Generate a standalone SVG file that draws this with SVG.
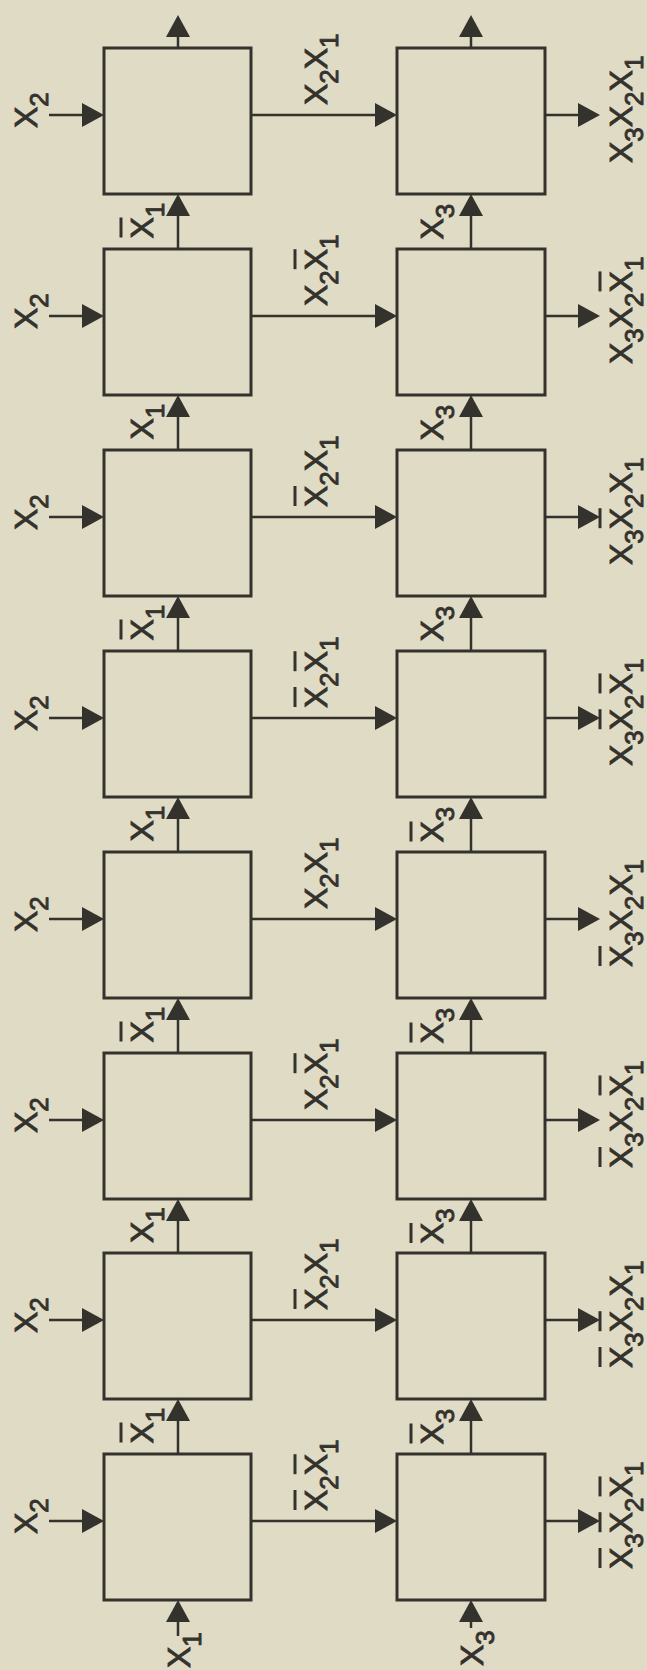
<svg xmlns="http://www.w3.org/2000/svg" width="647" height="1670" viewBox="0 0 647 1670">
<style>
.bg{fill:#e0dbc5}
.box{fill:#e0dbc5;stroke:#34322d;stroke-width:3}
.ln{fill:none;stroke:#34322d;stroke-width:2.5;marker-end:url(#ah)}
text{font-family:"Liberation Sans",Arial,sans-serif;fill:#34322d;stroke:#34322d;stroke-width:0.9}
.x{font-size:32px}
.s{font-size:26px}
.bar{stroke:#34322d;stroke-width:3}
</style>
<defs>
<marker id="ah" viewBox="0 0 22 24" refX="19" refY="12" markerWidth="22" markerHeight="24" markerUnits="userSpaceOnUse" orient="auto">
<path d="M0,0 L22,12 L0,24 z" fill="#34322d"/>
</marker>
</defs>
<rect class="bg" x="0" y="0" width="647" height="1670"/>

<g id="nodes">
<g id="r0L"><rect class="box" x="104" y="48" width="147" height="146"/></g>
<g id="r0R"><rect class="box" x="397" y="48" width="148" height="146"/></g>
<g id="r1L"><rect class="box" x="104" y="249" width="147" height="146"/></g>
<g id="r1R"><rect class="box" x="397" y="249" width="148" height="146"/></g>
<g id="r2L"><rect class="box" x="104" y="450" width="147" height="146"/></g>
<g id="r2R"><rect class="box" x="397" y="450" width="148" height="146"/></g>
<g id="r3L"><rect class="box" x="104" y="651" width="147" height="146"/></g>
<g id="r3R"><rect class="box" x="397" y="651" width="148" height="146"/></g>
<g id="r4L"><rect class="box" x="104" y="852" width="147" height="146"/></g>
<g id="r4R"><rect class="box" x="397" y="852" width="148" height="146"/></g>
<g id="r5L"><rect class="box" x="104" y="1053" width="147" height="146"/></g>
<g id="r5R"><rect class="box" x="397" y="1053" width="148" height="146"/></g>
<g id="r6L"><rect class="box" x="104" y="1253" width="147" height="146"/></g>
<g id="r6R"><rect class="box" x="397" y="1253" width="148" height="146"/></g>
<g id="r7L"><rect class="box" x="104" y="1454" width="147" height="146"/></g>
<g id="r7R"><rect class="box" x="397" y="1454" width="148" height="146"/></g>
</g>

<g id="connectors">
<path class="ln" d="M49,115H101"/>
<path class="ln" d="M49,316H101"/>
<path class="ln" d="M49,517H101"/>
<path class="ln" d="M49,718H101"/>
<path class="ln" d="M49,919H101"/>
<path class="ln" d="M49,1120H101"/>
<path class="ln" d="M49,1320H101"/>
<path class="ln" d="M49,1521H101"/>
<path class="ln" d="M251,115H394"/>
<path class="ln" d="M251,316H394"/>
<path class="ln" d="M251,517H394"/>
<path class="ln" d="M251,718H394"/>
<path class="ln" d="M251,919H394"/>
<path class="ln" d="M251,1120H394"/>
<path class="ln" d="M251,1320H394"/>
<path class="ln" d="M251,1521H394"/>
<path class="ln" d="M545,115H597"/>
<path class="ln" d="M545,316H597"/>
<path class="ln" d="M545,517H597"/>
<path class="ln" d="M545,718H597"/>
<path class="ln" d="M545,919H597"/>
<path class="ln" d="M545,1120H597"/>
<path class="ln" d="M545,1320H597"/>
<path class="ln" d="M545,1521H597"/>
<path class="ln" d="M178,249V197"/>
<path class="ln" d="M178,450V398"/>
<path class="ln" d="M178,651V599"/>
<path class="ln" d="M178,852V800"/>
<path class="ln" d="M178,1053V1001"/>
<path class="ln" d="M178,1253V1202"/>
<path class="ln" d="M178,1454V1402"/>
<path class="ln" d="M471,249V197"/>
<path class="ln" d="M471,450V398"/>
<path class="ln" d="M471,651V599"/>
<path class="ln" d="M471,852V800"/>
<path class="ln" d="M471,1053V1001"/>
<path class="ln" d="M471,1253V1202"/>
<path class="ln" d="M471,1454V1402"/>
<path class="ln" d="M178,48V18"/>
<path class="ln" d="M471,48V18"/>
<path class="ln" d="M178,1636V1603"/>
<path class="ln" d="M471,1628V1603"/>
</g>

<g id="labels">
<g transform="translate(37,128) rotate(-90)"><text><tspan class="x" x="0" y="0">X</tspan><tspan class="s" x="21.3" y="11">2</tspan></text></g>
<g transform="translate(37,329) rotate(-90)"><text><tspan class="x" x="0" y="0">X</tspan><tspan class="s" x="21.3" y="11">2</tspan></text></g>
<g transform="translate(37,530) rotate(-90)"><text><tspan class="x" x="0" y="0">X</tspan><tspan class="s" x="21.3" y="11">2</tspan></text></g>
<g transform="translate(37,731) rotate(-90)"><text><tspan class="x" x="0" y="0">X</tspan><tspan class="s" x="21.3" y="11">2</tspan></text></g>
<g transform="translate(37,932) rotate(-90)"><text><tspan class="x" x="0" y="0">X</tspan><tspan class="s" x="21.3" y="11">2</tspan></text></g>
<g transform="translate(37,1133) rotate(-90)"><text><tspan class="x" x="0" y="0">X</tspan><tspan class="s" x="21.3" y="11">2</tspan></text></g>
<g transform="translate(37,1333) rotate(-90)"><text><tspan class="x" x="0" y="0">X</tspan><tspan class="s" x="21.3" y="11">2</tspan></text></g>
<g transform="translate(37,1534) rotate(-90)"><text><tspan class="x" x="0" y="0">X</tspan><tspan class="s" x="21.3" y="11">2</tspan></text></g>

<g transform="translate(327,105) rotate(-90)"><text><tspan class="x" x="0" y="0">X</tspan><tspan class="s" x="21.3" y="11">2</tspan><tspan class="x" x="35.8" y="0">X</tspan><tspan class="s" x="57.1" y="11">1</tspan></text></g>
<g transform="translate(327,306) rotate(-90)"><text><tspan class="x" x="0" y="0">X</tspan><tspan class="s" x="21.3" y="11">2</tspan><tspan class="x" x="35.8" y="0">X</tspan><tspan class="s" x="57.1" y="11">1</tspan></text><line class="bar" x1="36.8" y1="-32" x2="56.8" y2="-32"/></g>
<g transform="translate(327,507) rotate(-90)"><text><tspan class="x" x="0" y="0">X</tspan><tspan class="s" x="21.3" y="11">2</tspan><tspan class="x" x="35.8" y="0">X</tspan><tspan class="s" x="57.1" y="11">1</tspan></text><line class="bar" x1="1" y1="-32" x2="21" y2="-32"/></g>
<g transform="translate(327,708) rotate(-90)"><text><tspan class="x" x="0" y="0">X</tspan><tspan class="s" x="21.3" y="11">2</tspan><tspan class="x" x="35.8" y="0">X</tspan><tspan class="s" x="57.1" y="11">1</tspan></text><line class="bar" x1="1" y1="-32" x2="21" y2="-32"/><line class="bar" x1="36.8" y1="-32" x2="56.8" y2="-32"/></g>
<g transform="translate(327,909) rotate(-90)"><text><tspan class="x" x="0" y="0">X</tspan><tspan class="s" x="21.3" y="11">2</tspan><tspan class="x" x="35.8" y="0">X</tspan><tspan class="s" x="57.1" y="11">1</tspan></text></g>
<g transform="translate(327,1110) rotate(-90)"><text><tspan class="x" x="0" y="0">X</tspan><tspan class="s" x="21.3" y="11">2</tspan><tspan class="x" x="35.8" y="0">X</tspan><tspan class="s" x="57.1" y="11">1</tspan></text><line class="bar" x1="36.8" y1="-32" x2="56.8" y2="-32"/></g>
<g transform="translate(327,1310) rotate(-90)"><text><tspan class="x" x="0" y="0">X</tspan><tspan class="s" x="21.3" y="11">2</tspan><tspan class="x" x="35.8" y="0">X</tspan><tspan class="s" x="57.1" y="11">1</tspan></text><line class="bar" x1="1" y1="-32" x2="21" y2="-32"/></g>
<g transform="translate(327,1511) rotate(-90)"><text><tspan class="x" x="0" y="0">X</tspan><tspan class="s" x="21.3" y="11">2</tspan><tspan class="x" x="35.8" y="0">X</tspan><tspan class="s" x="57.1" y="11">1</tspan></text><line class="bar" x1="1" y1="-32" x2="21" y2="-32"/><line class="bar" x1="36.8" y1="-32" x2="56.8" y2="-32"/></g>

<g transform="translate(632,163) rotate(-90)"><text><tspan class="x" x="0" y="0">X</tspan><tspan class="s" x="21.3" y="11">3</tspan><tspan class="x" x="35.8" y="0">X</tspan><tspan class="s" x="57.1" y="11">2</tspan><tspan class="x" x="71.6" y="0">X</tspan><tspan class="s" x="92.9" y="11">1</tspan></text></g>
<g transform="translate(632,364) rotate(-90)"><text><tspan class="x" x="0" y="0">X</tspan><tspan class="s" x="21.3" y="11">3</tspan><tspan class="x" x="35.8" y="0">X</tspan><tspan class="s" x="57.1" y="11">2</tspan><tspan class="x" x="71.6" y="0">X</tspan><tspan class="s" x="92.9" y="11">1</tspan></text><line class="bar" x1="72.6" y1="-32" x2="92.6" y2="-32"/></g>
<g transform="translate(632,565) rotate(-90)"><text><tspan class="x" x="0" y="0">X</tspan><tspan class="s" x="21.3" y="11">3</tspan><tspan class="x" x="35.8" y="0">X</tspan><tspan class="s" x="57.1" y="11">2</tspan><tspan class="x" x="71.6" y="0">X</tspan><tspan class="s" x="92.9" y="11">1</tspan></text><line class="bar" x1="36.8" y1="-32" x2="56.8" y2="-32"/></g>
<g transform="translate(632,766) rotate(-90)"><text><tspan class="x" x="0" y="0">X</tspan><tspan class="s" x="21.3" y="11">3</tspan><tspan class="x" x="35.8" y="0">X</tspan><tspan class="s" x="57.1" y="11">2</tspan><tspan class="x" x="71.6" y="0">X</tspan><tspan class="s" x="92.9" y="11">1</tspan></text><line class="bar" x1="36.8" y1="-32" x2="56.8" y2="-32"/><line class="bar" x1="72.6" y1="-32" x2="92.6" y2="-32"/></g>
<g transform="translate(632,967) rotate(-90)"><text><tspan class="x" x="0" y="0">X</tspan><tspan class="s" x="21.3" y="11">3</tspan><tspan class="x" x="35.8" y="0">X</tspan><tspan class="s" x="57.1" y="11">2</tspan><tspan class="x" x="71.6" y="0">X</tspan><tspan class="s" x="92.9" y="11">1</tspan></text><line class="bar" x1="1" y1="-32" x2="21" y2="-32"/></g>
<g transform="translate(632,1168) rotate(-90)"><text><tspan class="x" x="0" y="0">X</tspan><tspan class="s" x="21.3" y="11">3</tspan><tspan class="x" x="35.8" y="0">X</tspan><tspan class="s" x="57.1" y="11">2</tspan><tspan class="x" x="71.6" y="0">X</tspan><tspan class="s" x="92.9" y="11">1</tspan></text><line class="bar" x1="1" y1="-32" x2="21" y2="-32"/><line class="bar" x1="72.6" y1="-32" x2="92.6" y2="-32"/></g>
<g transform="translate(632,1368) rotate(-90)"><text><tspan class="x" x="0" y="0">X</tspan><tspan class="s" x="21.3" y="11">3</tspan><tspan class="x" x="35.8" y="0">X</tspan><tspan class="s" x="57.1" y="11">2</tspan><tspan class="x" x="71.6" y="0">X</tspan><tspan class="s" x="92.9" y="11">1</tspan></text><line class="bar" x1="1" y1="-32" x2="21" y2="-32"/><line class="bar" x1="36.8" y1="-32" x2="56.8" y2="-32"/></g>
<g transform="translate(632,1569) rotate(-90)"><text><tspan class="x" x="0" y="0">X</tspan><tspan class="s" x="21.3" y="11">3</tspan><tspan class="x" x="35.8" y="0">X</tspan><tspan class="s" x="57.1" y="11">2</tspan><tspan class="x" x="71.6" y="0">X</tspan><tspan class="s" x="92.9" y="11">1</tspan></text><line class="bar" x1="1" y1="-32" x2="21" y2="-32"/><line class="bar" x1="36.8" y1="-32" x2="56.8" y2="-32"/><line class="bar" x1="72.6" y1="-32" x2="92.6" y2="-32"/></g>

<g transform="translate(153,238.5) rotate(-90)"><text><tspan class="x" x="0" y="0">X</tspan><tspan class="s" x="21.3" y="11">1</tspan></text><line class="bar" x1="1" y1="-32" x2="21" y2="-32"/></g>
<g transform="translate(153,439.5) rotate(-90)"><text><tspan class="x" x="0" y="0">X</tspan><tspan class="s" x="21.3" y="11">1</tspan></text></g>
<g transform="translate(153,640.5) rotate(-90)"><text><tspan class="x" x="0" y="0">X</tspan><tspan class="s" x="21.3" y="11">1</tspan></text><line class="bar" x1="1" y1="-32" x2="21" y2="-32"/></g>
<g transform="translate(153,841.5) rotate(-90)"><text><tspan class="x" x="0" y="0">X</tspan><tspan class="s" x="21.3" y="11">1</tspan></text></g>
<g transform="translate(153,1042.5) rotate(-90)"><text><tspan class="x" x="0" y="0">X</tspan><tspan class="s" x="21.3" y="11">1</tspan></text><line class="bar" x1="1" y1="-32" x2="21" y2="-32"/></g>
<g transform="translate(153,1243) rotate(-90)"><text><tspan class="x" x="0" y="0">X</tspan><tspan class="s" x="21.3" y="11">1</tspan></text></g>
<g transform="translate(153,1443.5) rotate(-90)"><text><tspan class="x" x="0" y="0">X</tspan><tspan class="s" x="21.3" y="11">1</tspan></text><line class="bar" x1="1" y1="-32" x2="21" y2="-32"/></g>

<g transform="translate(443,239.5) rotate(-90)"><text><tspan class="x" x="0" y="0">X</tspan><tspan class="s" x="21.3" y="11">3</tspan></text></g>
<g transform="translate(443,440.5) rotate(-90)"><text><tspan class="x" x="0" y="0">X</tspan><tspan class="s" x="21.3" y="11">3</tspan></text></g>
<g transform="translate(443,641.5) rotate(-90)"><text><tspan class="x" x="0" y="0">X</tspan><tspan class="s" x="21.3" y="11">3</tspan></text></g>
<g transform="translate(443,842.5) rotate(-90)"><text><tspan class="x" x="0" y="0">X</tspan><tspan class="s" x="21.3" y="11">3</tspan></text><line class="bar" x1="1" y1="-32" x2="21" y2="-32"/></g>
<g transform="translate(443,1043.5) rotate(-90)"><text><tspan class="x" x="0" y="0">X</tspan><tspan class="s" x="21.3" y="11">3</tspan></text><line class="bar" x1="1" y1="-32" x2="21" y2="-32"/></g>
<g transform="translate(443,1244) rotate(-90)"><text><tspan class="x" x="0" y="0">X</tspan><tspan class="s" x="21.3" y="11">3</tspan></text><line class="bar" x1="1" y1="-32" x2="21" y2="-32"/></g>
<g transform="translate(443,1444.5) rotate(-90)"><text><tspan class="x" x="0" y="0">X</tspan><tspan class="s" x="21.3" y="11">3</tspan></text><line class="bar" x1="1" y1="-32" x2="21" y2="-32"/></g>

<g transform="translate(190,1668) rotate(-90)"><text><tspan class="x" x="0" y="0">X</tspan><tspan class="s" x="21.3" y="11">1</tspan></text></g>
<g transform="translate(483,1666) rotate(-90)"><text><tspan class="x" x="0" y="0">X</tspan><tspan class="s" x="21.3" y="11">3</tspan></text></g>
</g>
</svg>
